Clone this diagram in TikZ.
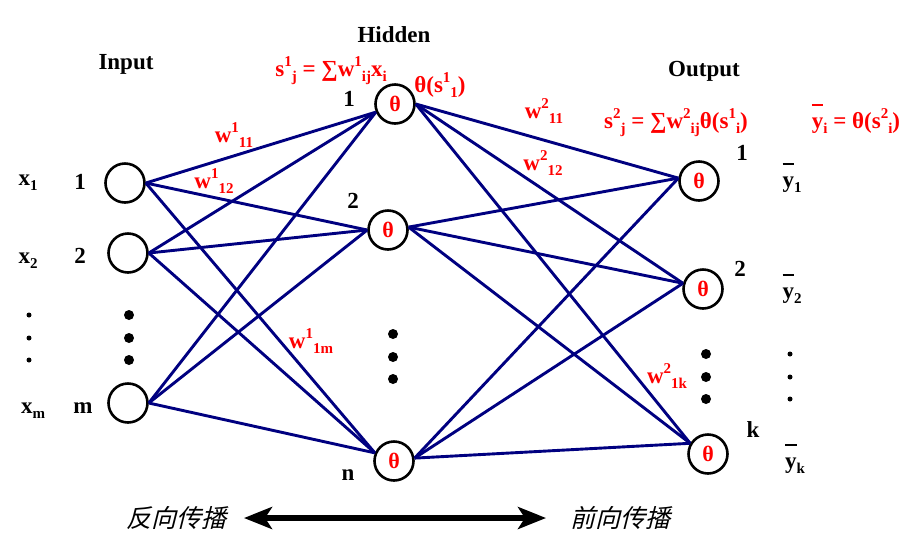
\documentclass[tikz,border=0pt]{standalone}
\usepackage{fontspec}
\setmainfont{Liberation Serif}
\newfontfamily\cjk[FakeSlant=0.25]{Noto Sans CJK SC}
\usetikzlibrary{arrows.meta}
\definecolor{navy}{RGB}{0,0,128}
\newcommand\up[1]{\raisebox{0.42em}{\fontsize{15}{15}\selectfont #1}}
\newcommand\dn[1]{\raisebox{-0.22em}{\fontsize{15}{15}\selectfont #1}}
\newcommand\ybar{\leavevmode\rlap{\raisebox{0.95em}{\rule{0.5em}{1.8pt}}}y}
\begin{document}
\begin{tikzpicture}[x=1pt,y=-1pt,
  neuron/.style={circle, draw=black, line width=2.6pt, minimum size=39pt, inner sep=0pt,
                 text=red, font=\fontsize{22}{22}\selectfont\bfseries},
  link/.style={draw=navy, line width=2.9pt},
  lbl/.style={font=\fontsize{23}{26}\selectfont\bfseries, anchor=base, inner sep=0pt},
  rlbl/.style={lbl, text=red},
  ylbl/.style={font=\fontsize{23}{26}\selectfont\bfseries, anchor=base, inner sep=0pt},
  bigdot/.style={circle, fill=black, minimum size=10pt, inner sep=0pt},
  smalldot/.style={circle, fill=black, minimum size=5pt, inner sep=0pt},
  cjklbl/.style={font=\fontsize{25}{28}\selectfont\cjk, inner sep=0pt}]
\useasboundingbox (0,0) rectangle (916,550);

% neurons
\node[neuron] (I1) at (125,183) {};
\node[neuron] (I2) at (128,253) {};
\node[neuron] (Im) at (128,403) {};
\node[neuron] (H1) at (395,104) {θ};
\node[neuron] (H2) at (388,230) {θ};
\node[neuron] (Hn) at (394,461) {θ};
\node[neuron] (O1) at (699,181) {θ};
\node[neuron] (O2) at (703,289) {θ};
\node[neuron] (Ok) at (708,454) {θ};

% input -> hidden
\foreach \i in {I1,I2,Im}{
  \draw[link] (\i.east) -- (H1.203);
  \draw[link] (\i.east) -- (H2.west);
  \draw[link] (\i.east) -- (Hn.157);
}
% hidden -> output
\foreach \h/\a in {H1/0,H2/8,Hn/8}{
  \draw[link] (\h.\a) -- (O1.172);
  \draw[link] (\h.\a) -- (O2.164);
  \draw[link] (\h.\a) -- (Ok.149);
}

% titles
\node[lbl] (tin) at (126,69) {Input};
\node[lbl] (thid) at (394,42) {Hidden};
\node[lbl] (tout) at (704,76) {Output};

% formulas
\node[rlbl] (f1) at (331,76) {s\up{1}\dn{j} = ∑w\up{1}\dn{ij}x\dn{i}};
\node[rlbl] (f1b) at (440,92) {θ(s\up{1}\dn{1})};
\node[rlbl] (f2) at (676,128) {s\up{2}\dn{j} = ∑w\up{2}\dn{ij}θ(s\up{1}\dn{i})};
\node[rlbl] (f3) at (856,128) {\ybar\dn{i} = θ(s\up{2}\dn{i})};

% weight labels
\node[rlbl] (w111) at (234,142) {w\up{1}\dn{11}};
\node[rlbl] (w112) at (214,188) {w\up{1}\dn{12}};
\node[rlbl] (w11m) at (311,348) {w\up{1}\dn{1m}};
\node[rlbl] (w211) at (544,118) {w\up{2}\dn{11}};
\node[rlbl] (w212) at (543,170) {w\up{2}\dn{12}};
\node[rlbl] (w21k) at (667,383) {w\up{2}\dn{1k}};

% index labels
\node[lbl] (nx1) at (80,189) {1};
\node[lbl] (nx2) at (80,263) {2};
\node[lbl] (nxm) at (83,413) {m};
\node[lbl] (nh1) at (349,106) {1};
\node[lbl] (nh2) at (353,208) {2};
\node[lbl] (nhn) at (348,480) {n};
\node[lbl] (no1) at (742,160) {1};
\node[lbl] (no2) at (740,276) {2};
\node[lbl] (nok) at (753,437) {k};

% x labels
\node[lbl] (x1) at (28,185) {x\dn{1}};
\node[lbl] (x2) at (28,263) {x\dn{2}};
\node[lbl] (xm) at (33,413) {x\dn{m}};

% y labels
\node[ylbl] (y1) at (792,187) {\ybar\dn{1}};
\node[ylbl] (y2) at (792,298) {\ybar\dn{2}};
\node[ylbl] (yk) at (795,468) {\ybar\dn{k}};

% dots
\foreach \y in {315,338,360}{\node[bigdot] at (129,\y) {}; \node[smalldot] at (29,\y) {};}
\foreach \y in {334,357,379}{\node[bigdot] at (393,\y) {};}
\foreach \y in {354,377,399}{\node[bigdot] at (706,\y) {}; \node[smalldot] at (790,\y) {};}

% propagation arrow
\node[cjklbl] (back) at (176,518) {反向传播};
\node[cjklbl] (fwd) at (620,518) {前向传播};
\coordinate (aL) at (244,518);
\coordinate (aR) at (546,518);
\draw[line width=6pt, {Stealth[length=28pt,width=22pt,inset=7pt]}-{Stealth[length=28pt,width=22pt,inset=7pt]}] (aL) -- (aR);
\end{tikzpicture}
\end{document}
